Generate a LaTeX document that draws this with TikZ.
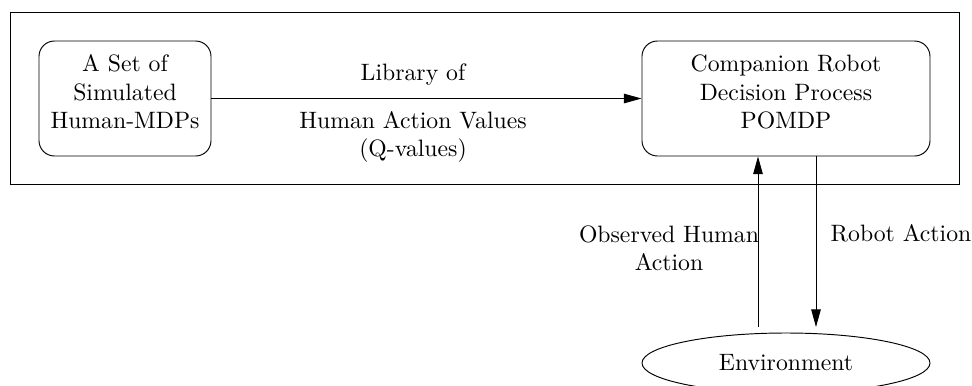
\documentclass[tikz,border=0pt]{standalone}
\usetikzlibrary{arrows.meta,shapes.geometric}
\begin{document}
\begin{tikzpicture}[x=0.4218pt,y=-0.4218pt,
  every node/.style={font=\normalsize},
  box/.style={draw,rounded corners=6.5pt,align=center,inner sep=0pt,line width=0.4pt},
  conn/.style={line width=0.4pt,-{Triangle[length=7.4pt,width=4pt]}},
  lbl/.style={align=center,inner sep=0pt}]
\useasboundingbox (0,0) rectangle (972,385);
\node[draw,line width=0.4pt,minimum width=949*0.4218pt,minimum height=172*0.4218pt,inner sep=0pt] (frame) at (484.5,98) {};
\node[box,minimum width=172*0.4218pt,minimum height=115*0.4218pt] (sim) at (125,98.5) {};
\node[lbl] at (125,92) {A Set of\\Simulated\\Human-MDPs};
\node[box,minimum width=288*0.4218pt,minimum height=115*0.4218pt] (robot) at (786,98.5) {};
\node[lbl] at (786,92) {Companion Robot\\Decision Process\\POMDP};
\node[draw,ellipse,line width=0.4pt,minimum width=288*0.4218pt,minimum height=60*0.4218pt,inner sep=0pt] (env) at (786,363) {Environment};
\draw[conn] (sim.east) -- (robot.west);
\node[lbl] (lib) at (413,75) {Library of};
\node[lbl] (hav) at (413,137) {Human Action Values\\(Q-values)};
\coordinate (upstart) at (758,327);
\coordinate (downend) at (816,327);
\draw[conn] (upstart) -- (robot.south -| upstart);
\draw[conn] (robot.south -| downend) -- (downend);
\node[lbl] (obs) at (669,248) {Observed Human\\Action};
\node[lbl] (ract) at (901,233) {Robot Action};
\end{tikzpicture}
\end{document}
